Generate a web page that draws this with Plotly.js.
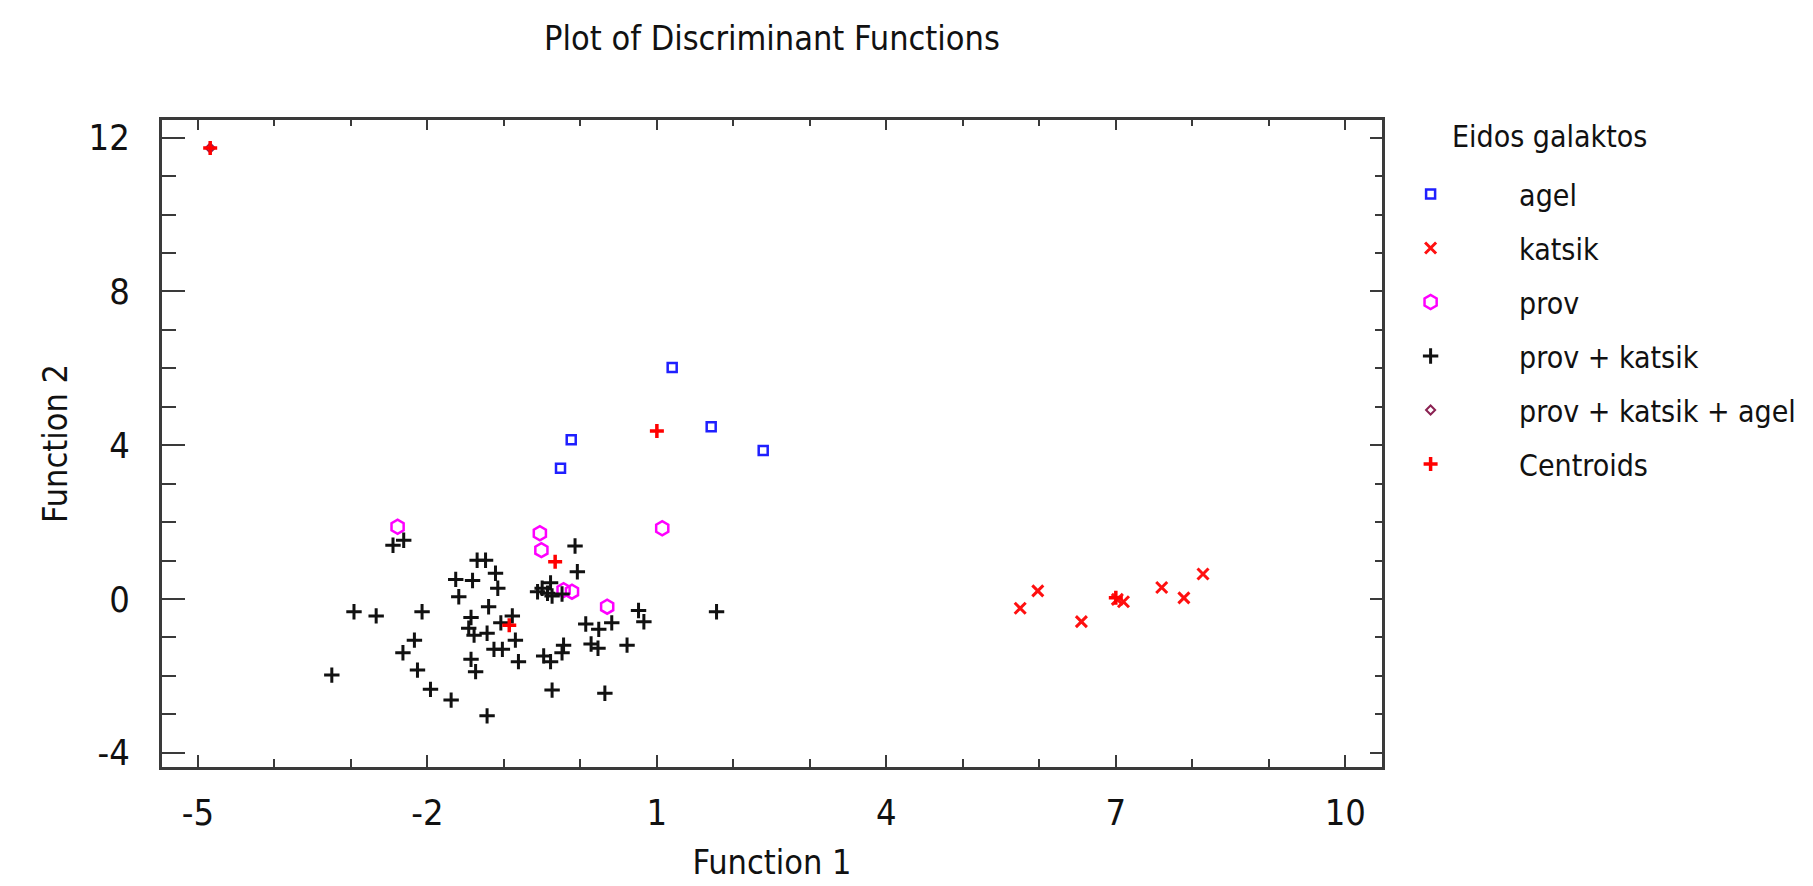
<!DOCTYPE html>
<html>
<head>
<meta charset="utf-8">
<script src="https://cdn.plot.ly/plotly-3.0.1.min.js"></script>
<style>
html,body{margin:0;padding:0;background:#fff;}
#chart{width:1813px;height:886px;}
</style>
</head>
<body>
<div id="chart"></div>
<script>
// ---- data ----
const agelX = [1.20, -0.12, -0.26, 1.71, 2.39];
const agelY = [6.02, 4.14, 3.40, 4.48, 3.86];

const katsikX = [5.75, 5.98, 6.55, 7.02, 7.10, 7.60, 7.89, 8.14];
const katsikY = [-0.24, 0.21, -0.59, -0.01, -0.07, 0.30, 0.03, 0.65];

const provX = [-2.39, -0.53, -0.51, 1.07, -0.11, -0.22, 0.35];
const provY = [1.88, 1.71, 1.27, 1.84, 0.19, 0.23, -0.20];

const provKatsikX = [-2.45, -2.31, -1.35, -1.24, -1.11, -1.63, -1.41, -1.08, -1.59, -2.96,
  -2.67, -2.07, -1.20, -1.43, -0.89, -1.04, -1.46, -1.39, -1.22, -0.85,
  -2.17, -2.32, -1.13, -1.02, -0.81, -1.43, -2.13, -1.37, -3.25, -1.96,
  -1.69, -1.22, -0.07, -0.04, -0.39, -0.56, -0.43, -0.37, -0.24, -0.50,
  0.76, 0.83, 1.78, 0.07, 0.24, 0.41, 0.14, 0.23, 0.61, -0.22,
  -0.24, -0.48, -0.39, -0.37, 0.32];
const provKatsikY = [1.40, 1.53, 1.01, 1.01, 0.67, 0.51, 0.48, 0.28, 0.06, -0.33,
  -0.44, -0.33, -0.20, -0.48, -0.44, -0.62, -0.76, -0.94, -0.89, -1.07,
  -1.07, -1.40, -1.31, -1.31, -1.63, -1.57, -1.85, -1.89, -1.98, -2.35,
  -2.63, -3.04, 1.38, 0.71, 0.42, 0.19, 0.15, 0.08, 0.13, 0.28,
  -0.30, -0.59, -0.33, -0.65, -0.79, -0.62, -1.17, -1.28, -1.20, -1.20,
  -1.40, -1.48, -1.63, -2.37, -2.45];

const provKatsikAgelX = [-4.84];
const provKatsikAgelY = [11.73];

const centroidX = [1.00, 7.00, -0.33, -0.93, -4.84];
const centroidY = [4.37, 0.03, 0.97, -0.68, 11.73];

const seriesNames = ['agel', 'katsik', 'prov', 'prov + katsik', 'prov + katsik + agel', 'Centroids'];
const legendTitle = 'Eidos galaktos';
const xTickVals = [-5, -2, 1, 4, 7, 10];
const xTickText = ['-5', '-2', '1', '4', '7', '10'];
const yTickVals = [-4, 0, 4, 8, 12];
const yTickText = ['-4', '0', '4', '8', '12'];

// ---- styling ----
const FONT = '"Liberation Sans Narrow", "DejaVu Sans Condensed", "Arial Narrow", "Liberation Sans", Arial, sans-serif';
const XR = [-5.47, 10.48];
const YR = [-4.37, 12.46];
const AX = '#3a3a3a';

function tr(name, x, y, marker, grp) {
  return {type: 'scatter', mode: 'markers', name: name, x: x, y: y,
          marker: marker, legendgroup: grp, hoverinfo: 'x+y+name'};
}

const traces = [
  tr(seriesNames[0], agelX, agelY, {symbol: 'square-open', size: 9, color: '#1f1fff', line: {width: 2.5, color: '#1f1fff'}}, 'g1'),
  tr(seriesNames[1], katsikX, katsikY, {symbol: 'x-thin-open', size: 11, color: '#ff1010', line: {width: 3, color: '#ff1010'}}, 'g2'),
  tr(seriesNames[2], provX, provY, {symbol: 'hexagon-open', size: 14, color: '#ff00ff', line: {width: 2.5, color: '#ff00ff'}}, 'g3'),
  tr(seriesNames[3], provKatsikX, provKatsikY, {symbol: 'cross-thin-open', size: 11, color: '#111111', line: {width: 3, color: '#111111'}}, 'g4'),
  tr(seriesNames[4], provKatsikAgelX, provKatsikAgelY, {symbol: 'diamond-open', size: 7, color: '#8b2252', line: {width: 2, color: '#8b2252'}}, 'g5'),
  tr(seriesNames[5], centroidX, centroidY, {symbol: 'cross-thin-open', size: 10, color: '#ff0000', line: {width: 3.5, color: '#ff0000'}}, 'g6'),
  {type: 'scatter', mode: 'markers', x: [], y: [], xaxis: 'x2', yaxis: 'y2', showlegend: false, hoverinfo: 'skip'}
];

const layout = {
  width: 1813, height: 886,
  paper_bgcolor: '#ffffff', plot_bgcolor: '#ffffff',
  font: {family: FONT, color: '#111111', size: 31},
  margin: {l: 162, r: 428, t: 120, b: 119, pad: 0},
  title: {text: 'Plot of Discriminant Functions', font: {family: FONT, size: 34, color: '#111'},
          x: 0.5, xref: 'paper', y: 1 - 38 / 886, yref: 'container', xanchor: 'center', yanchor: 'middle'},
  showlegend: true,
  legend: {x: (1345 - 162) / 1223, xanchor: 'left', y: 1 - (168 - 120) / 647, yanchor: 'top', yref: 'paper',
           font: {family: FONT, size: 30, color: '#111'}, itemwidth: 167, tracegroupgap: 12,
           bgcolor: 'rgba(0,0,0,0)', traceorder: 'grouped'},
  annotations: [{text: legendTitle, xref: 'paper', yref: 'paper', x: (1453 - 162) / 1223, xanchor: 'left',
                 y: 1 - (136 - 120) / 647, yanchor: 'middle', showarrow: false,
                 font: {family: FONT, size: 30, color: '#111'}}],
  xaxis: {range: XR, autorange: false, tickmode: 'array', tickvals: xTickVals, ticktext: xTickText,
          ticks: 'inside', ticklen: 12, tickwidth: 2, tickcolor: AX,
          minor: {tickmode: 'linear', tick0: -5, dtick: 1, ticks: 'inside', ticklen: 8, tickwidth: 2, tickcolor: AX},
          showline: true, linecolor: AX, linewidth: 3, showgrid: false, zeroline: false,
          tickfont: {family: FONT, size: 36, color: '#111'}, ticklabelstandoff: 12,
          title: {text: 'Function 1', font: {family: FONT, size: 34, color: '#111'}, standoff: 18}},
  yaxis: {range: YR, autorange: false, tickmode: 'array', tickvals: yTickVals, ticktext: yTickText,
          ticks: 'inside', ticklen: 23, tickwidth: 2, tickcolor: AX,
          minor: {tickmode: 'linear', tick0: 0, dtick: 1, ticks: 'inside', ticklen: 14, tickwidth: 2, tickcolor: AX},
          showline: true, linecolor: AX, linewidth: 3, showgrid: false, zeroline: false,
          tickfont: {family: FONT, size: 36, color: '#111'}, ticklabelstandoff: 22,
          title: {text: 'Function 2', font: {family: FONT, size: 34, color: '#111'}, standoff: 11}},
  xaxis2: {range: XR, autorange: false, overlaying: 'x', side: 'top', anchor: 'y2',
           tickmode: 'array', tickvals: xTickVals, showticklabels: false,
           ticks: 'inside', ticklen: 10, tickwidth: 2, tickcolor: AX,
           minor: {tickmode: 'linear', tick0: -5, dtick: 1, ticks: 'inside', ticklen: 6, tickwidth: 2, tickcolor: AX},
           showline: true, linecolor: AX, linewidth: 3, showgrid: false, zeroline: false},
  yaxis2: {range: YR, autorange: false, overlaying: 'y', side: 'right', anchor: 'x2',
           tickmode: 'array', tickvals: yTickVals, showticklabels: false,
           ticks: 'inside', ticklen: 12, tickwidth: 2, tickcolor: AX,
           minor: {tickmode: 'linear', tick0: 0, dtick: 1, ticks: 'inside', ticklen: 7, tickwidth: 2, tickcolor: AX},
           showline: true, linecolor: AX, linewidth: 3, showgrid: false, zeroline: false}
};

Plotly.newPlot('chart', traces, layout, {displayModeBar: false});
</script>
</body>
</html>
